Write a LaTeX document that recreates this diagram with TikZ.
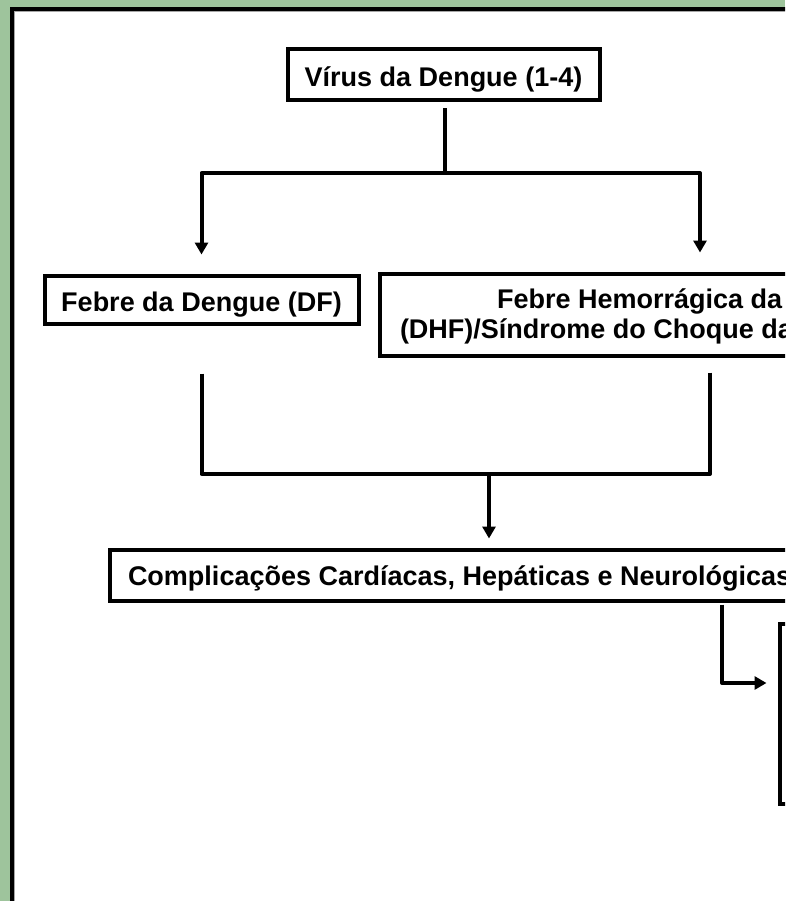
\documentclass[tikz,border=0pt]{standalone}
\usepackage{fontspec}
\setmainfont{Liberation Sans}
\usetikzlibrary{arrows.meta,calc}
\definecolor{bggreen}{RGB}{158,196,156}
\begin{document}
\begin{tikzpicture}[x=1pt,y=-1pt,
  box/.style={draw=black, line width=4pt, fill=white, rectangle, inner sep=0pt, outer sep=0pt,
    font=\fontsize{27}{32}\selectfont\bfseries, text height=23pt, text depth=0pt},
  txt/.style={inner sep=0pt, outer sep=0pt, font=\fontsize{27}{32}\selectfont\bfseries, anchor=base west},
  conn/.style={line width=4pt, line cap=butt, line join=round},
  arr/.style={conn, -{Triangle[width=13pt,length=12pt]}}]
\useasboundingbox (0,0) rectangle (785,901);
\clip (0,0) rectangle (785,901);
\fill[bggreen] (0,0) rectangle (785,901);
\draw[line width=4.5pt, fill=white] (12,9) rectangle (900,1000);
\draw[gray!70, line width=1pt] (14.75,11.75) rectangle (900,1000);
% boxes
\node[box, minimum width=312pt, minimum height=51pt] (virus) at (443.5,75) {Vírus da Dengue (1-4)};
\node[box, minimum width=314pt, minimum height=48pt] (df) at (201.5,299.5) {Febre da Dengue (DF)};
\node[box, anchor=north west, minimum width=600pt, minimum height=82pt] (dhf) at (379.5,273.5) {};
\node[txt] (dhfa) at (497,308) {Febre Hemorrágica da};
\node[txt] (dhfb) at (400,338) {(DHF)/Síndrome do Choque da};
\node[box, anchor=north west, minimum width=800pt, minimum height=51pt] (comp) at (109.5,549.5) {};
\node[txt] (compt) at (128,585) {Complicações Cardíacas, Hepáticas e Neurológicas};
\node[box, anchor=north west, minimum width=100pt, minimum height=180pt] (rbox) at (779.5,623.5) {};
% connectors
\coordinate (s1) at (445,173);
\coordinate (xr) at (700,0);
\draw[conn, shorten <=8pt] (virus.south -| s1) -- (s1);
\draw[arr, shorten >=21pt] (s1) -| (df.north);
\draw[arr, shorten >=21pt] (s1) -| (dhf.north -| xr);
\coordinate (m1) at (489,474);
\coordinate (xr2) at (710,0);
\draw[conn, shorten <=50pt] (df.south) |- (m1);
\draw[conn, shorten <=17pt] (dhf.south -| xr2) |- (m1);
\draw[arr, shorten >=11pt] (m1) -- (comp.north -| m1);
\coordinate (c3) at (722,683);
\draw[arr, shorten <=4pt, shorten >=13pt] (comp.south -| c3) |- (rbox.west |- c3);
\end{tikzpicture}
\end{document}
